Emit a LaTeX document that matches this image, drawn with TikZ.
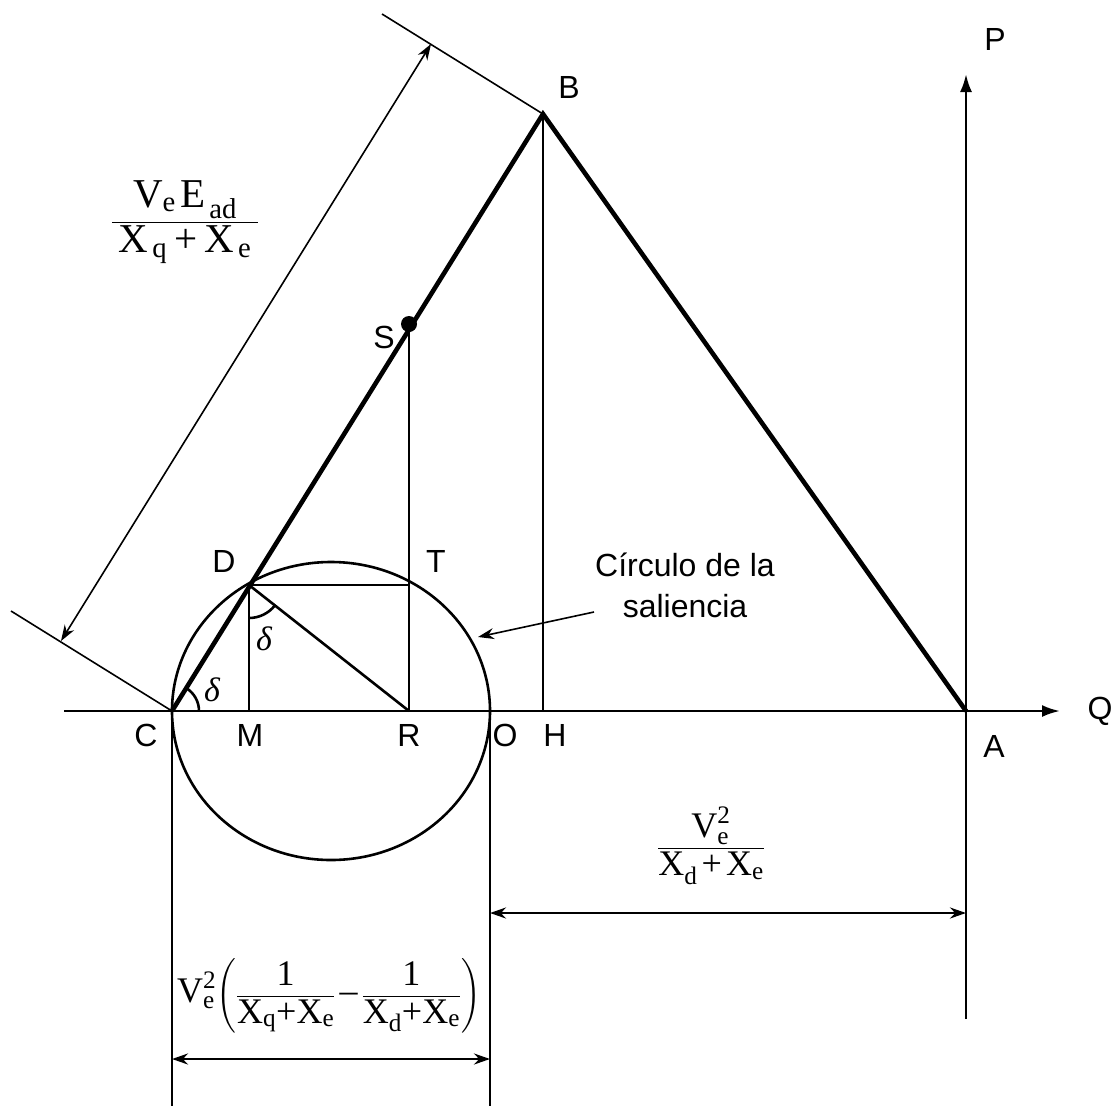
\documentclass[tikz,border=0pt]{standalone}
\usepackage{fontspec}
\usepackage{amsmath}
\setmainfont{Liberation Serif}
\newfontfamily\lblfont{Liberation Sans}
\usetikzlibrary{arrows.meta}

\begin{document}
\begin{tikzpicture}[x=1pt,y=-1pt,
	ptlabel/.style={font=\lblfont\fontsize{32}{36}\selectfont,inner sep=0pt},
	eqlabel/.style={font=\fontsize{36}{40}\selectfont,inner sep=0pt},
	angle label/.style={font=\fontsize{34}{38}\selectfont\itshape,inner sep=0pt},
	heavy/.style={line width=4.6pt,line join=miter},
	medium/.style={line width=2.6pt},
	light/.style={line width=1.6pt},
	axisarrow/.style={-{Latex[length=18pt,width=12pt]}},
	dimarrow/.style={{Stealth[length=16pt,width=11pt]}-{Stealth[length=16pt,width=11pt]}}]
\useasboundingbox (0,0) rectangle (1116,1106);

% main points of the diagram
\coordinate (C) at (172,711);
\coordinate (M) at (249,711);
\coordinate (R) at (409,711);
\coordinate (O) at (490,711);
\coordinate (H) at (543,711);
\coordinate (A) at (966,711);
\coordinate (B) at (543,114);
\coordinate (S) at (409,324);
\coordinate (D) at (249,585);
\coordinate (T) at (409,585);
\coordinate (K) at (331,711);

% axes
\coordinate (Qstart) at (64,711);
\coordinate (Qend) at (1060,711);
\coordinate (Pstart) at (966,1019);
\coordinate (Pend) at (966,74);
\draw[medium,axisarrow] (Qstart) -- (Qend);
\draw[medium,axisarrow] (Pstart) -- (Pend);

% circle of saliency
\draw[medium] (K) ellipse[x radius=159,y radius=149];

% construction lines
\draw[heavy] (C) -- (B) -- (A);
\draw[medium] (B) -- (H);
\draw[medium] (S) -- (R);
\draw[medium] (D) -- (M);
\draw[medium] (D) -- (T);
\draw[medium] (D) -- (R);
\fill (S) circle[radius=8];

% angles
\draw[medium] (C) ++(0:27) arc[start angle=0,end angle=-58.1,radius=27];
\draw[medium] (D) ++(90:33) arc[start angle=90,end angle=38.2,radius=33];
\node[angle label] (dC) at (212,690) {δ};
\node[angle label] (dD) at (264,639) {δ};

% dimension along CB
\coordinate (Cext) at (11,611);
\coordinate (Bext) at (382,14);
\coordinate (Cdim) at (61,641);
\coordinate (Bdim) at (431,44);
\draw[light] (C) -- (Cext);
\draw[light] (B) -- (Bext);
\draw[light,dimarrow] (Cdim) -- (Bdim);

% dimensions below the axis
\coordinate (Cbot) at (172,1106);
\coordinate (Obot) at (490,1106);
\coordinate (Odim) at (490,913);
\coordinate (Adim) at (966,913);
\coordinate (Cdim2) at (172,1059);
\coordinate (Odim2) at (490,1059);
\draw[medium] (C) -- (Cbot);
\draw[medium] (O) -- (Obot);
\draw[medium,dimarrow] (Odim) -- (Adim);
\draw[medium,dimarrow] (Cdim2) -- (Odim2);

% labels
\node[ptlabel] (lB) at (569,87) {B};
\node[ptlabel] (lP) at (995,39) {P};
\node[ptlabel] (lQ) at (1100,711) {Q};
\node[ptlabel] (lS) at (384,337) {S};
\node[ptlabel] (lD) at (224,561) {D};
\node[ptlabel] (lT) at (436,561) {T};
\node[ptlabel] (lC) at (146,735) {C};
\node[ptlabel] (lM) at (250,735) {M};
\node[ptlabel] (lR) at (409,735) {R};
\node[ptlabel] (lO) at (505,735) {O};
\node[ptlabel] (lH) at (555,735) {H};
\node[ptlabel] (lA) at (994,746) {A};

\node[ptlabel,align=center,font=\lblfont\fontsize{32}{41}\selectfont] (circ) at (685,585) {Círculo de la\\saliencia};
\coordinate (circtip) at (478,637);
\coordinate (circtail) at (594,612);
\draw[light,-{Stealth[length=16pt,width=11pt]}] (circtail) -- (circtip);

\node[eqlabel,font=\fontsize{41}{46}\selectfont] (eqCB) at (185,222)
	{$\dfrac{\;\text{V}_{\text{e}}\,\text{E}_{\,\text{ad}}\;}{\;\text{X}_{\,\text{q}}\;\text{+}\;\text{X}_{\,\text{e}}\;}$};
\node[eqlabel,font=\fontsize{36}{40}\selectfont] (eqOA) at (711,846)
	{$\dfrac{\;\text{V}_{\text{e}}^{\text{2}}\;}{\text{X}_{\text{d}}\,\text{+}\,\text{X}_{\text{e}}}$};
\node[eqlabel,font=\fontsize{36}{40}\selectfont] (eqCO) at (329,996)
	{$\text{V}_{\text{e}}^{\text{2}}\!\left(\dfrac{\text{1}}{\text{X}_{\text{q}}\text{+}\text{X}_{\text{e}}}\,\text{--}\,\dfrac{\text{1}}{\text{X}_{\text{d}}\text{+}\text{X}_{\text{e}}}\right)$};
\end{tikzpicture}
\end{document}
